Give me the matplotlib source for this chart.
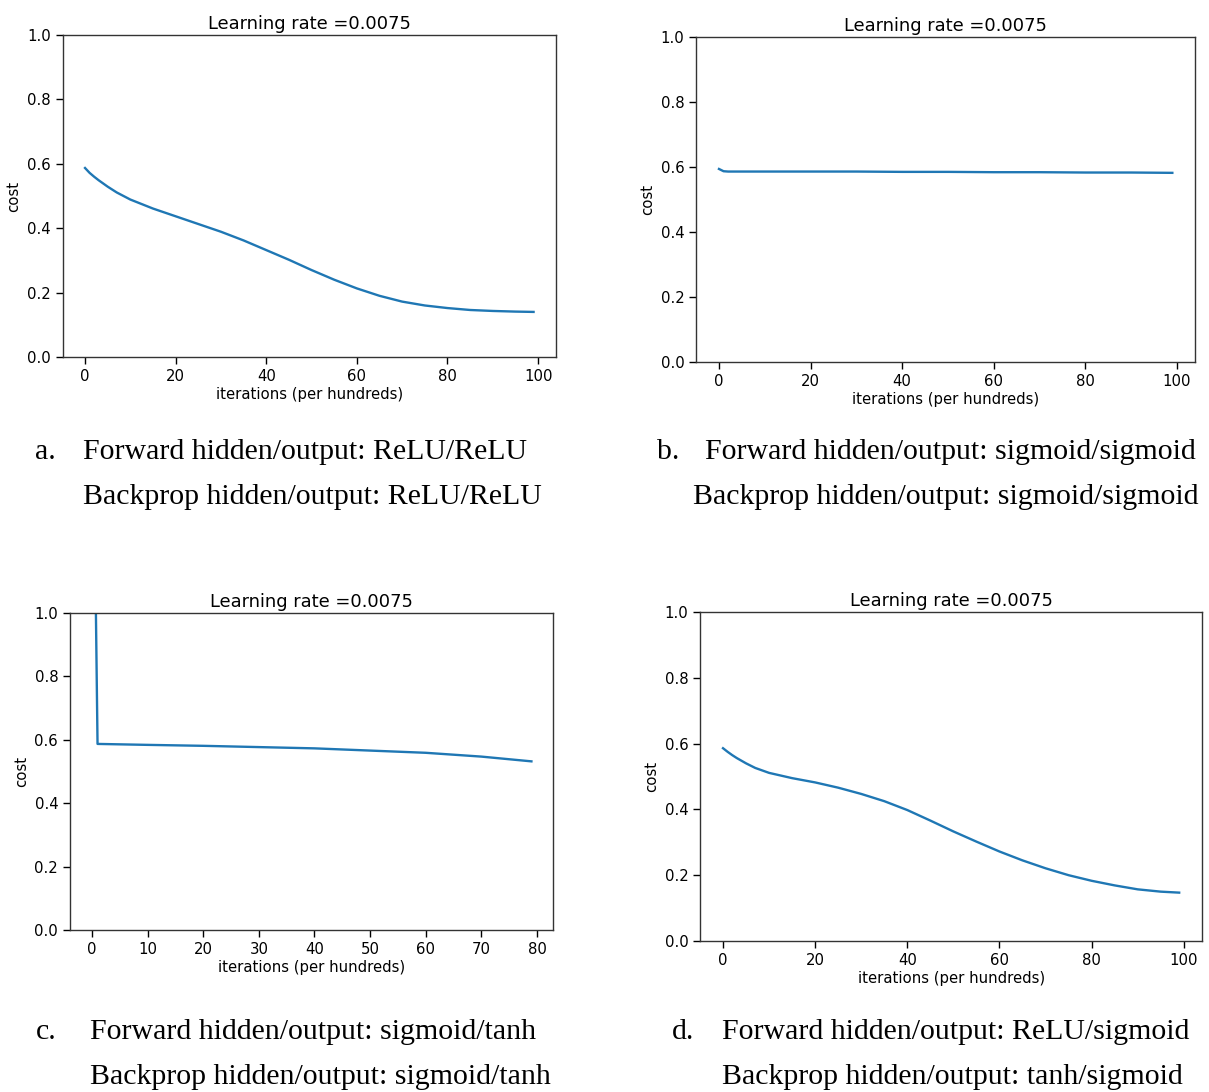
import numpy as np
import matplotlib.pyplot as plt

# Cost curves (iterations in hundreds)
x_a = [0, 1, 2, 3, 4, 5, 7, 10, 15, 20, 25, 30, 35, 40, 45, 50, 55, 60, 65, 70, 75, 80, 85, 90, 95, 99]
cost_a = [0.587, 0.572, 0.560, 0.549, 0.539, 0.529, 0.511, 0.489, 0.461, 0.437, 0.413, 0.389, 0.362,
          0.332, 0.302, 0.270, 0.240, 0.213, 0.190, 0.172, 0.160, 0.152, 0.146, 0.143, 0.141, 0.140]

x_b = [0, 1, 2, 10, 20, 30, 40, 50, 60, 70, 80, 90, 99]
cost_b = [0.594, 0.587, 0.586, 0.586, 0.586, 0.586, 0.585, 0.585, 0.584, 0.584, 0.583, 0.583, 0.582]

x_c = [0, 1, 10, 20, 30, 40, 50, 60, 70, 79]
cost_c = [2.0, 0.587, 0.584, 0.581, 0.577, 0.573, 0.566, 0.559, 0.547, 0.532]

x_d = [0, 1, 2, 3, 5, 7, 10, 15, 20, 25, 30, 35, 40, 45, 50, 55, 60, 65, 70, 75, 80, 85, 90, 95, 99]
cost_d = [0.586, 0.575, 0.565, 0.556, 0.540, 0.526, 0.511, 0.495, 0.482, 0.466, 0.447, 0.425, 0.398,
          0.366, 0.333, 0.302, 0.272, 0.245, 0.221, 0.200, 0.183, 0.169, 0.157, 0.150, 0.147]

labels = ['a.', 'b.', 'c.', 'd.']
forward = ['ReLU/ReLU', 'sigmoid/sigmoid', 'sigmoid/tanh', 'ReLU/sigmoid']
backprop = ['ReLU/ReLU', 'sigmoid/sigmoid', 'sigmoid/tanh', 'tanh/sigmoid']

W, H = 1209, 1092
fig = plt.figure(figsize=(W / 100, H / 100), dpi=100)

# axes boxes in pixels: left, right, top, bottom
boxes = [(62.6, 556, 35, 357), (696.3, 1195, 37, 362), (70, 553.4, 613, 930), (700.2, 1202, 612, 941)]
data = [(x_a, cost_a), (x_b, cost_b), (x_c, cost_c), (x_d, cost_d)]

for (l, r, t, b), (x, y) in zip(boxes, data):
    ax = fig.add_axes([l / W, 1 - b / H, (r - l) / W, (b - t) / H])
    ax.plot(x, y, color='#1f77b4', linewidth=1.7)
    ax.set_ylim(0, 1.0)
    ax.set_ylabel('cost', fontsize=10.7)
    ax.set_xlabel('iterations (per hundreds)', fontsize=10.7, labelpad=2)
    ax.set_title('Learning rate =0.0075', fontsize=12.9, pad=4)
    ax.tick_params(labelsize=10.7, length=5, width=1)
    for s in ax.spines.values():
        s.set_linewidth(1.0)
        s.set_color('#333333')

# captions under each panel
cap = dict(fontsize=21.5, family='Liberation Serif', va='center')
pos = [(35, 83, 83, 452, 497), (657, 705, 693, 452, 497),
       (36, 90, 90, 1032, 1077), (672, 722, 722, 1032, 1077)]
for (xl, xf, xb, y1, y2), lab, f, bp in zip(pos, labels, forward, backprop):
    fig.text(xl / W, 1 - y1 / H, lab, **cap)
    fig.text(xf / W, 1 - y1 / H, 'Forward hidden/output: ' + f, **cap)
    fig.text(xb / W, 1 - y2 / H, 'Backprop hidden/output: ' + bp, **cap)

plt.savefig('out.png', dpi=100)
